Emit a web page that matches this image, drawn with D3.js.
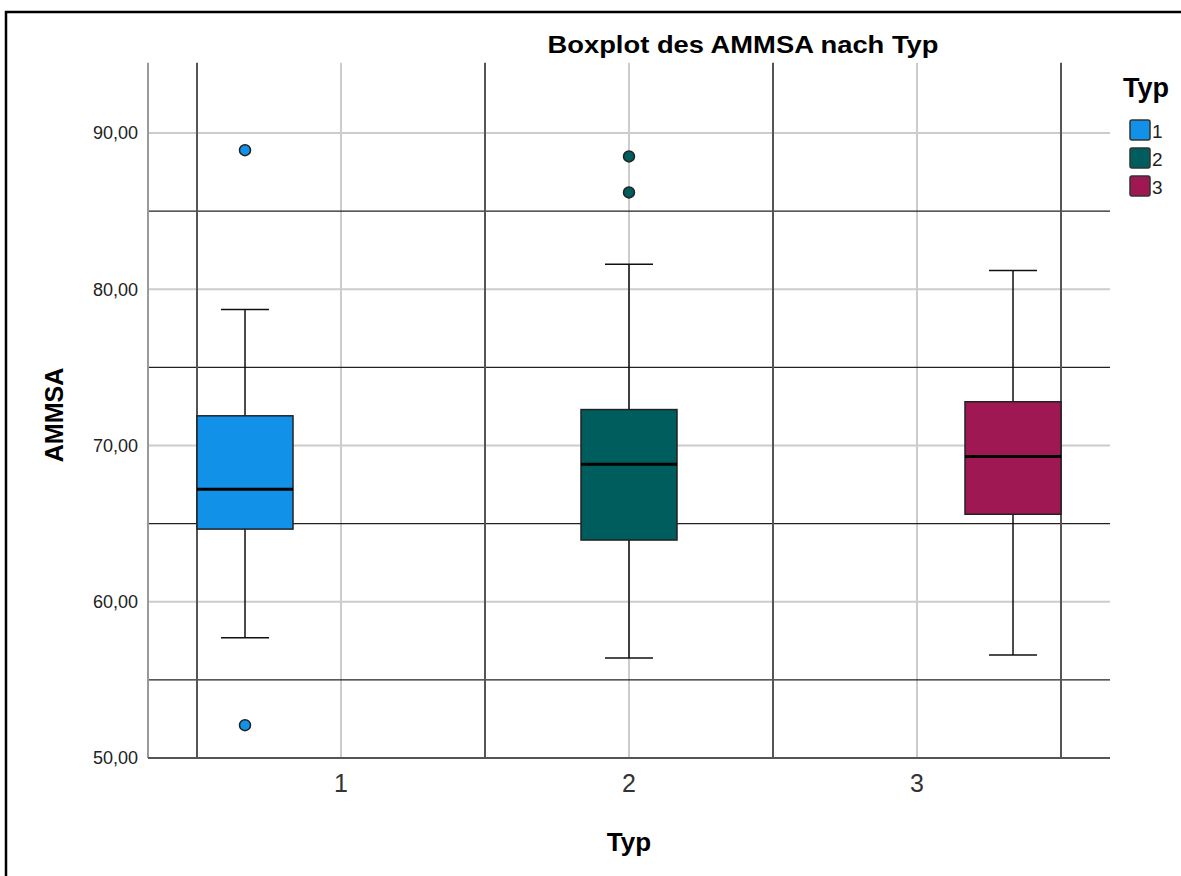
<html>
<head>
  <meta charset="utf-8">
  <title>Boxplot des AMMSA nach Typ</title>
  <script src="https://d3js.org/d3.v7.min.js"></script>
  <style>
    body { margin: 0; background: #fff; }
    text { font-family: "Liberation Sans", Arial, sans-serif; }
  </style>
</head>
<body>
  <div id="chart"></div>
  <script>
  // data
  var categories = ["1", "2", "3"];
  var colors = ["#1192e8", "#005d5d", "#9f1853"];
  var whiskerLow = [57.7, 56.4, 56.6];
  var q1 = [64.65, 63.95, 65.6];
  var median = [67.2, 68.8, 69.3];
  var q3 = [71.9, 72.3, 72.8];
  var whiskerHigh = [78.7, 81.6, 81.2];
  var outliers = [[88.9, 52.1], [88.5, 86.2], []];
  var majorTicks = [50, 60, 70, 80, 90];
  var minorLines = [55, 65, 75, 85];

  var W = 1181, H = 876;
  var svg = d3.select("#chart").append("svg")
      .attr("width", W)
      .attr("height", H);

  // outer frame
  svg.append("rect")
    .attr("x", 6).attr("y", 12)
    .attr("width", W).attr("height", H)
    .attr("fill", "none")
    .attr("stroke", "#000")
    .attr("stroke-width", 2.5);

  var plotLeft = 148, plotRight = 1110;
  var y = d3.scaleLinear().domain([50, 90]).range([758, 133]);
  var plotTop = y(94.5), plotBottom = y(50);

  var x = d3.scaleBand().domain(categories).range([197, 1061]);
  var xSub = d3.scaleBand().domain(categories).range([0, x.bandwidth()]);

  var g = svg.append("g");

  // light grid lines at major ticks
  g.selectAll(".hmajor")
    .data(majorTicks.filter(function(d) { return d > 50; }))
    .enter().append("line")
      .attr("x1", plotLeft).attr("x2", plotRight)
      .attr("y1", function(d) { return y(d); })
      .attr("y2", function(d) { return y(d); })
      .attr("stroke", "#cccccc")
      .attr("stroke-width", 2);

  // light vertical lines at category centres
  g.selectAll(".vmajor")
    .data(categories)
    .enter().append("line")
      .attr("x1", function(d) { return x(d) + x.bandwidth() / 2; })
      .attr("x2", function(d) { return x(d) + x.bandwidth() / 2; })
      .attr("y1", plotTop).attr("y2", plotBottom)
      .attr("stroke", "#cccccc")
      .attr("stroke-width", 2);

  // dark lines in between
  g.selectAll(".hminor")
    .data(minorLines)
    .enter().append("line")
      .attr("x1", plotLeft).attr("x2", plotRight)
      .attr("y1", function(d) { return y(d); })
      .attr("y2", function(d) { return y(d); })
      .attr("stroke", "#222")
      .attr("stroke-width", 1.2);

  var edges = categories.map(function(d) { return x(d); }).concat([x(categories[2]) + x.bandwidth()]);
  g.selectAll(".vminor")
    .data(edges)
    .enter().append("line")
      .attr("x1", function(d) { return d; })
      .attr("x2", function(d) { return d; })
      .attr("y1", plotTop).attr("y2", plotBottom)
      .attr("stroke", "#555")
      .attr("stroke-width", 2);

  // y axis
  var yAxis = g.append("g")
    .attr("transform", "translate(" + plotLeft + ",0)")
    .call(d3.axisLeft(y).tickValues(majorTicks).tickSize(0).tickPadding(10)
      .tickFormat(function(d) { return d3.format(".2f")(d).replace(".", ","); }));
  yAxis.select(".domain").attr("stroke", "#999").attr("stroke-width", 2)
    .attr("d", "M0," + plotTop + "V" + plotBottom);
  yAxis.selectAll("text").attr("font-size", 18).attr("fill", "#222")
    .attr("font-family", "'Liberation Sans', Arial, sans-serif");

  // x axis
  var xAxis = g.append("g")
    .attr("transform", "translate(0," + plotBottom + ")")
    .call(d3.axisBottom(x).tickSize(0).tickPadding(16));
  xAxis.select(".domain").attr("stroke", "#555").attr("stroke-width", 2)
    .attr("d", "M" + plotLeft + ",0H" + plotRight);
  xAxis.selectAll("text").attr("font-size", 25).attr("fill", "#333")
    .attr("font-family", "'Liberation Sans', Arial, sans-serif");

  // boxes
  var data = categories.map(function(c, i) {
    return { cat: c, i: i, lo: whiskerLow[i], q1: q1[i], med: median[i],
             q3: q3[i], hi: whiskerHigh[i], out: outliers[i], color: colors[i] };
  });

  var boxes = g.selectAll(".box")
    .data(data)
    .enter().append("g")
      .attr("transform", function(d) { return "translate(" + (x(d.cat) + xSub(d.cat)) + ",0)"; });

  var bw = xSub.bandwidth();
  var cx = bw / 2;

  boxes.append("line")
    .attr("x1", cx).attr("x2", cx)
    .attr("y1", function(d) { return y(d.hi); })
    .attr("y2", function(d) { return y(d.lo); })
    .attr("stroke", "#111").attr("stroke-width", 1.5);

  boxes.selectAll(".cap")
    .data(function(d) { return [d.lo, d.hi]; })
    .enter().append("line")
      .attr("x1", cx - bw / 4).attr("x2", cx + bw / 4)
      .attr("y1", function(v) { return y(v); })
      .attr("y2", function(v) { return y(v); })
      .attr("stroke", "#111").attr("stroke-width", 1.5);

  boxes.append("rect")
    .attr("x", 0).attr("width", bw)
    .attr("y", function(d) { return y(d.q3); })
    .attr("height", function(d) { return y(d.q1) - y(d.q3); })
    .attr("fill", function(d) { return d.color; })
    .attr("stroke", "#222").attr("stroke-width", 1.5);

  boxes.append("line")
    .attr("x1", 0).attr("x2", bw)
    .attr("y1", function(d) { return y(d.med); })
    .attr("y2", function(d) { return y(d.med); })
    .attr("stroke", "#000").attr("stroke-width", 3);

  boxes.selectAll(".out")
    .data(function(d) { return d.out.map(function(v) { return { v: v, color: d.color }; }); })
    .enter().append("circle")
      .attr("cx", cx)
      .attr("cy", function(o) { return y(o.v); })
      .attr("r", 5.5)
      .attr("fill", function(o) { return o.color; })
      .attr("stroke", "#222").attr("stroke-width", 1.5);

  // titles
  svg.append("text")
    .attr("x", 743).attr("y", 53)
    .attr("text-anchor", "middle")
    .attr("font-size", 24).attr("font-weight", "bold")
    .attr("textLength", 391).attr("lengthAdjust", "spacingAndGlyphs")
    .text("Boxplot des AMMSA nach Typ");

  svg.append("text")
    .attr("x", (197 + 1061) / 2).attr("y", 851)
    .attr("text-anchor", "middle")
    .attr("font-size", 26).attr("font-weight", "bold")
    .text("Typ");

  svg.append("text")
    .attr("transform", "translate(63,415) rotate(-90)")
    .attr("text-anchor", "middle")
    .attr("font-size", 25).attr("font-weight", "bold")
    .text("AMMSA");

  // legend
  var legend = svg.append("g").attr("transform", "translate(1118,0)");
  legend.append("text")
    .attr("x", 5).attr("y", 97)
    .attr("font-size", 27).attr("font-weight", "bold")
    .text("Typ");
  var items = legend.selectAll(".item")
    .data(categories)
    .enter().append("g")
      .attr("transform", function(d, i) { return "translate(12," + (120 + i * 28) + ")"; });
  items.append("rect")
    .attr("width", 20).attr("height", 20).attr("rx", 2)
    .attr("fill", function(d, i) { return colors[i]; })
    .attr("stroke", "#333").attr("stroke-width", 1.5);
  items.append("text")
    .attr("x", 22).attr("y", 18)
    .attr("font-size", 19).attr("fill", "#222")
    .text(function(d) { return d; });
  </script>
</body>
</html>
